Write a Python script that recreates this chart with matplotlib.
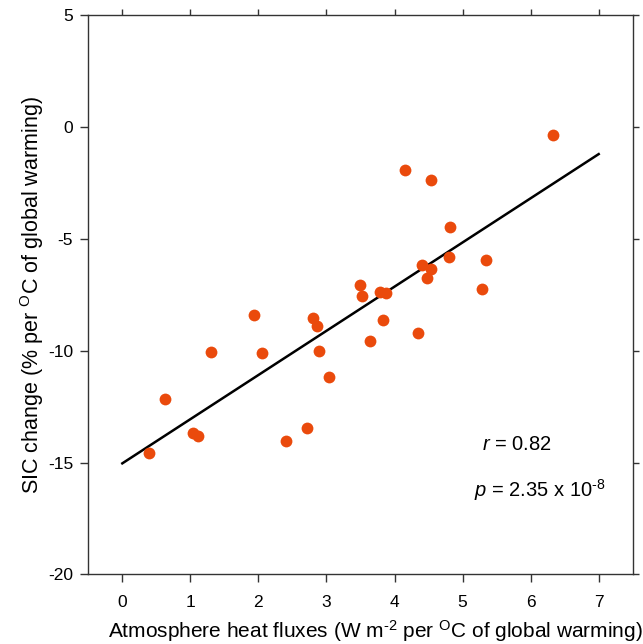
import numpy as np
import matplotlib
matplotlib.use("Agg")
import matplotlib.pyplot as plt

plt.rcParams['font.family'] = ['Liberation Sans', 'DejaVu Sans']
plt.rcParams['mathtext.fontset'] = 'custom'
plt.rcParams['mathtext.rm'] = 'Liberation Sans'
plt.rcParams['mathtext.it'] = 'Liberation Sans:italic'
plt.rcParams['axes.unicode_minus'] = False

# heat flux (W m-2 per degC) vs SIC change (% per degC)
heat_flux = [6.33, 4.15, 4.54, 4.81, 4.80, 5.34, 4.40, 4.53, 4.47, 3.50,
             3.52, 3.78, 3.87, 5.28, 1.93, 2.80, 2.86, 3.83, 4.35, 3.64,
             2.89, 1.31, 2.05, 3.04, 0.62, 1.04, 1.11, 2.72, 2.40, 0.39]
sic_change = [-0.35, -1.92, -2.35, -4.45, -5.81, -5.93, -6.17, -6.33, -6.76, -7.08,
              -7.55, -7.36, -7.43, -7.25, -8.40, -8.52, -8.88, -8.64, -9.20, -9.57,
              -10.00, -10.04, -10.09, -11.16, -12.16, -13.67, -13.81, -13.46, -14.04, -14.56]

x_ticks = [0, 1, 2, 3, 4, 5, 6, 7]
y_ticks = [5, 0, -5, -10, -15, -20]

x = np.array(heat_flux)
y = np.array(sic_change)
slope, intercept = np.polyfit(x, y, 1)
x_fit = np.array([0, 7])

fig = plt.figure(figsize=(6.43, 6.44), dpi=100)
ax = fig.add_axes([0.1373, 0.1082, 0.8467, 0.868])

ax.plot(x, y, 'o', color='#ea4a0c', markersize=8.5, markeredgewidth=0, zorder=3)
ax.plot(x_fit, intercept + slope * x_fit, color='black', lw=1.8, zorder=2)

ax.set_xlim(-0.5, 7.5)
ax.set_ylim(-20, 5)
ax.set_xticks(x_ticks)
ax.set_yticks(y_ticks)

for s in ax.spines.values():
    s.set_color('#333333')
    s.set_linewidth(1.0)

ax.tick_params(axis='both', which='major', direction='out', length=6, width=1,
               color='#333333', labelsize=12.5)
ax.tick_params(axis='x', pad=9)
ax.tick_params(axis='y', pad=5)
ax.tick_params(top=True, right=True)
for t in ax.xaxis.get_major_ticks():
    t.tick2line.set_markersize(4)
for t in ax.yaxis.get_major_ticks():
    t.tick2line.set_markersize(4)

hy = '\u2010'
ax.set_xlabel('Atmosphere heat fluxes (W m$^{' + hy + '2}$ per $^{\\mathrm{O}}$C of global warming)',
              fontsize=15)
ax.xaxis.set_label_coords(0.527, -0.079, transform=ax.transAxes)
ax.xaxis.label.set_va('top')
ax.set_ylabel('SIC change (% per $^{\\mathrm{O}}$C of global warming)', fontsize=15.5, labelpad=1)

ax.text(5.29, -14.2, '$r$ = 0.82', fontsize=14.5, va='center', ha='left')
ax.text(5.17, -16.23, '$p$ = 2.35 x 10$^{' + hy + '8}$', fontsize=14.5, va='center', ha='left')

fig.savefig('out.png', dpi=100)
